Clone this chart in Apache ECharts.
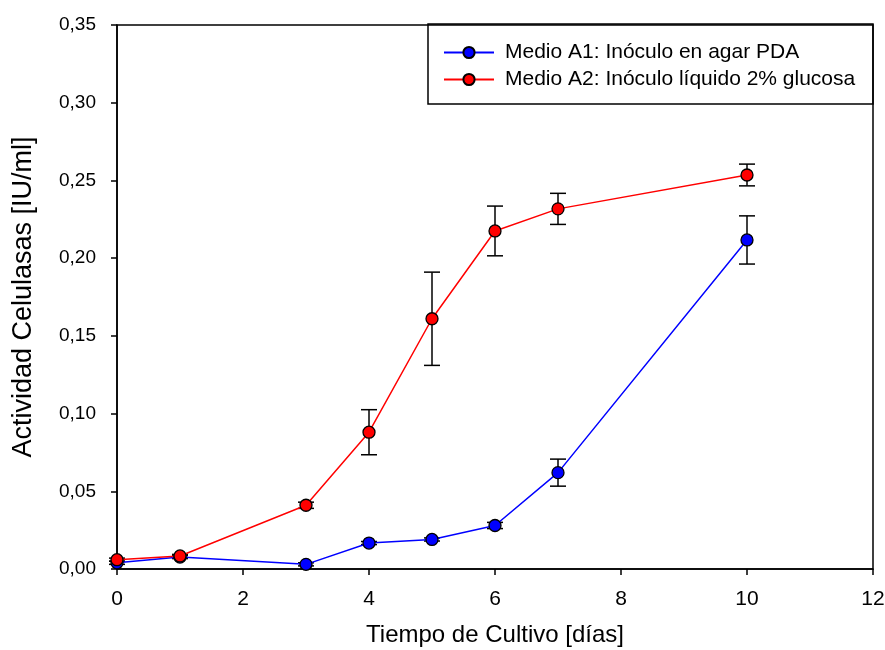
<!DOCTYPE html>
<html>
<head>
<meta charset="utf-8">
<script src="https://cdn.jsdelivr.net/npm/echarts@6/dist/echarts.min.js"></script>
<style>
  html, body { margin: 0; padding: 0; background: #fff; }
  #chart { width: 885px; height: 650px; }
</style>
</head>
<body>
<div id="chart"></div>
<script>
// Cultivation time (days)
const days = [0, 1, 3, 4, 5, 6, 7, 10];

// Medio A1: agar PDA inoculum — mean activity and standard error
const a1Mean = [0.004, 0.0077, 0.003, 0.0167, 0.019, 0.028, 0.062, 0.2117];
const a1Err  = [0.001, 0.001, 0.001, 0.001, 0.001, 0.002, 0.0087, 0.0155];

// Medio A2: liquid 2% glucose inoculum
const a2Mean = [0.006, 0.0084, 0.041, 0.088, 0.161, 0.2175, 0.2317, 0.2535];
const a2Err  = [0.001, 0.001, 0.002, 0.0145, 0.030, 0.016, 0.010, 0.007];

const seriesNames = ['Medio A1: Inóculo en agar PDA', 'Medio A2: Inóculo líquido 2% glucosa'];
const yTicks = ['0,00', '0,05', '0,10', '0,15', '0,20', '0,25', '0,30', '0,35'];

const FONT = 'Liberation Sans, Arial, sans-serif';

function pairs(xs, ys) { return xs.map((x, i) => [x, ys[i]]); }
function errData(xs, ys, es) { return xs.map((x, i) => [x, ys[i] - es[i], ys[i] + es[i]]); }

function errorBars(data) {
  return {
    type: 'custom',
    z: 1,
    silent: true,
    data: data,
    renderItem: function (params, api) {
      const x = api.value(0);
      const lo = api.coord([x, api.value(1)]);
      const hi = api.coord([x, api.value(2)]);
      const w = 8;
      const style = { stroke: '#000', lineWidth: 1.5, fill: null };
      return {
        type: 'group',
        children: [
          { type: 'line', shape: { x1: lo[0], y1: lo[1], x2: hi[0], y2: hi[1] }, style: style },
          { type: 'line', shape: { x1: lo[0] - w, y1: lo[1], x2: lo[0] + w, y2: lo[1] }, style: style },
          { type: 'line', shape: { x1: hi[0] - w, y1: hi[1], x2: hi[0] + w, y2: hi[1] }, style: style }
        ]
      };
    }
  };
}

function lineSeries(name, data, color) {
  return {
    name: name,
    type: 'line',
    z: 3,
    data: data,
    symbol: 'circle',
    symbolSize: 12,
    lineStyle: { color: color, width: 1.5 },
    itemStyle: { color: color, borderColor: '#000', borderWidth: 1.3 },
    emphasis: { disabled: true },
    animation: false
  };
}

const chart = echarts.init(document.getElementById('chart'), null, { renderer: 'canvas' });
chart.setOption({
  animation: false,
  backgroundColor: '#fff',
  grid: {
    left: 117, right: 12, top: 25, bottom: 81,
    outerBoundsMode: 'none', containLabel: false,
    show: true, borderColor: '#000', borderWidth: 1.5, backgroundColor: 'transparent'
  },
  xAxis: {
    type: 'value',
    min: 0, max: 12, interval: 2,
    name: 'Tiempo de Cultivo [días]',
    nameLocation: 'middle',
    nameGap: 54,
    nameTextStyle: { fontFamily: FONT, fontSize: 24, color: '#000' },
    axisLine: { show: true, lineStyle: { color: '#000', width: 1.5 } },
    axisTick: { show: true, inside: false, length: 6, lineStyle: { color: '#000', width: 1.5 } },
    axisLabel: { fontFamily: FONT, fontSize: 21, color: '#000', margin: 20 },
    splitLine: { show: false }
  },
  yAxis: {
    type: 'value',
    min: 0, max: 0.35, interval: 0.05,
    name: 'Actividad Celulasas [IU/ml]',
    nameLocation: 'middle',
    nameGap: 80,
    nameTextStyle: { fontFamily: FONT, fontSize: 27, color: '#000' },
    axisLine: { show: true, lineStyle: { color: '#000', width: 1.5 } },
    axisTick: { show: true, inside: false, length: 6, lineStyle: { color: '#000', width: 1.5 } },
    axisLabel: {
      fontFamily: FONT, fontSize: 19, color: '#000', margin: 21,
      formatter: function (v) { return yTicks[Math.round(v / 0.05)]; }
    },
    splitLine: { show: false }
  },
  legend: {
    orient: 'vertical',
    left: 438, top: 37,
    itemWidth: 50, itemHeight: 14, itemGap: 6,
    data: seriesNames,
    textStyle: { fontFamily: FONT, fontSize: 21, color: '#000', padding: [0, 0, 0, 6] },
    selectedMode: false
  },
  graphic: [{
    type: 'rect',
    shape: { x: 428, y: 24, width: 445, height: 80 },
    style: { fill: '#fff', stroke: '#000', lineWidth: 1.5 },
    z: -1,
    zlevel: 0
  }],
  series: [
    errorBars(errData(days, a1Mean, a1Err)),
    errorBars(errData(days, a2Mean, a2Err)),
    lineSeries(seriesNames[0], pairs(days, a1Mean), '#0000ff'),
    lineSeries(seriesNames[1], pairs(days, a2Mean), '#ff0000')
  ]
});
</script>
</body>
</html>
